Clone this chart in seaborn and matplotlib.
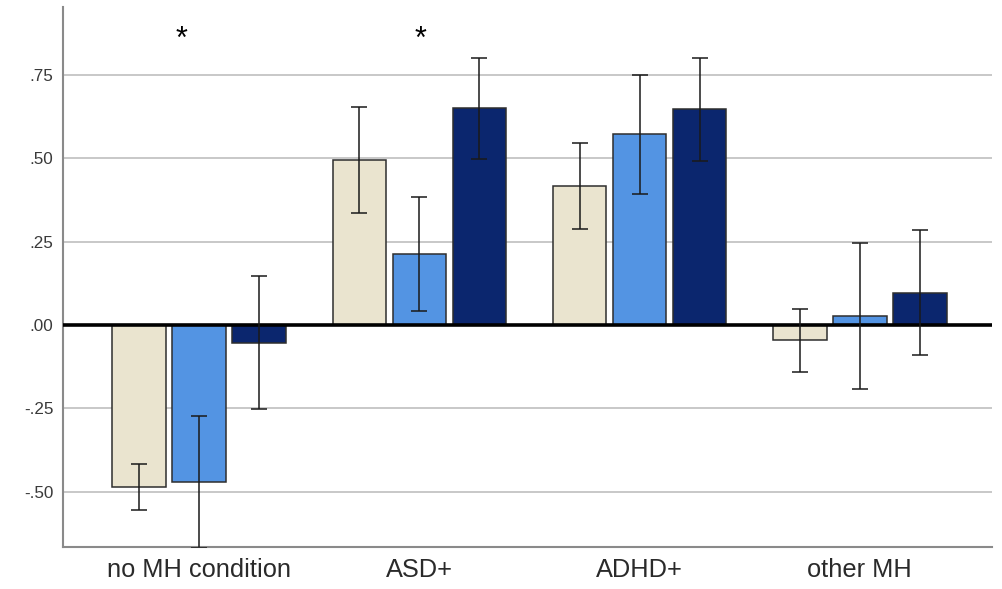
import numpy as np
import pandas as pd
import matplotlib
matplotlib.use("Agg")
import matplotlib.pyplot as plt
import seaborn as sns

# ---- data ----
categories = ["no MH condition", "ASD+", "ADHD+", "other MH"]
groups = ["group 1", "group 2", "group 3"]

g1_mean = [-0.485, 0.495, 0.418, -0.045]
g2_mean = [-0.471, 0.213, 0.571, 0.028]
g3_mean = [-0.053, 0.650, 0.647, 0.097]

g1_lo = [-0.555, 0.335, 0.289, -0.142]
g1_hi = [-0.417, 0.654, 0.547, 0.049]
g2_lo = [-0.668, 0.043, 0.394, -0.192]
g2_hi = [-0.273, 0.385, 0.749, 0.246]
g3_lo = [-0.252, 0.499, 0.493, -0.089]
g3_hi = [0.147, 0.801, 0.801, 0.285]

ytick_values = [-0.50, -0.25, 0.00, 0.25, 0.50, 0.75]
ytick_labels = ["-.50", "-.25", ".00", ".25", ".50", ".75"]

star_categories = ["no MH condition", "ASD+"]
star_offsets = [-0.08, 0.005]
star_y = 0.855

colors = ["#EAE4CF", "#5394E3", "#0B266E"]

# ---- build table ----
means = [g1_mean, g2_mean, g3_mean]
los = [g1_lo, g2_lo, g3_lo]
his = [g1_hi, g2_hi, g3_hi]
rows = []
for g, m in zip(groups, means):
    for c, v in zip(categories, m):
        rows.append({"category": c, "group": g, "value": v})
df = pd.DataFrame(rows)

sns.set_style("white")
plt.rcParams["font.family"] = ["Liberation Sans", "DejaVu Sans"]

fig = plt.figure(figsize=(10.02, 5.89), dpi=100)
ax = fig.add_axes([63 / 1002, 1 - 547 / 589, (992 - 63) / 1002, (547 - 7) / 589])

sns.barplot(data=df, x="category", y="value", hue="group", order=categories,
            hue_order=groups, palette=colors, saturation=1, width=0.818, gap=0.11,
            edgecolor="#2e2e2e", linewidth=1.1, errorbar=None, ax=ax,
            legend=False, zorder=2)

# error bars at bar centres
for cont, m, lo, hi in zip(ax.containers, means, los, his):
    xs = [b.get_x() + b.get_width() / 2 for b in cont]
    m = np.array(m); lo = np.array(lo); hi = np.array(hi)
    ax.errorbar(xs, m, yerr=[m - lo, hi - m], fmt="none", ecolor="#1a1a1a",
                elinewidth=1.1, capsize=5.8, capthick=1.1, zorder=4)

ax.axhline(0, color="black", lw=2.6, zorder=3)

ax.set_ylim(-0.665, 0.953)
ax.set_xlim(-0.618, 3.6)
ax.set_yticks(ytick_values)
ax.set_yticklabels(ytick_labels)
ax.yaxis.grid(True, color="#c8c8c8", lw=1.4)
ax.xaxis.grid(False)
ax.set_axisbelow(True)

ax.tick_params(axis="y", length=0, pad=7, labelsize=12.3, labelcolor="#3a3a3a")
ax.tick_params(axis="x", length=0, pad=8, labelsize=18.3, labelcolor="#2a2a2a")
ax.set_xlabel("")
ax.set_ylabel("")

for side in ["top", "right"]:
    ax.spines[side].set_visible(False)
for side in ["left", "bottom"]:
    ax.spines[side].set_color("#8a8a8a")
    ax.spines[side].set_linewidth(1.5)

for c, off in zip(star_categories, star_offsets):
    ax.text(categories.index(c) + off, star_y, "*", ha="center", va="center",
            fontsize=22, color="black")

fig.savefig("out.png", dpi=100)
